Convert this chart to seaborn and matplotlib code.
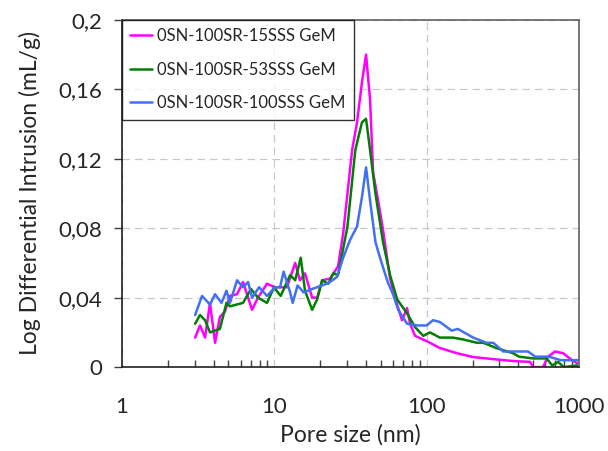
import numpy as np
import matplotlib
matplotlib.use("Agg")
import matplotlib.pyplot as plt
import seaborn as sns
from matplotlib.ticker import FixedLocator, LogLocator, NullFormatter, FuncFormatter

# pore size (nm) and log differential intrusion (mL/g)
pore_15 = [3.02, 3.25, 3.51, 3.78, 4.08, 4.39, 4.74, 5.11, 5.69, 6.23, 7.14, 7.80,
           8.95, 10.1, 12.1, 13.7, 14.7, 15.9, 17.7, 19.1, 20.6, 23.2, 26.2, 28.3,
           32.4, 34.9, 37.6, 40.0, 42.5, 44.5, 48.0, 51.7, 57.5, 64.0, 68.9, 74.3,
           77.8, 83.9, 100, 122, 158, 202, 273, 369, 478, 500, 581, 626, 697, 787,
           901, 972]
intr_15 = [0.017, 0.024, 0.017, 0.037, 0.014, 0.029, 0.032, 0.041, 0.042, 0.049, 0.033, 0.040,
           0.048, 0.046, 0.046, 0.060, 0.050, 0.054, 0.040, 0.040, 0.050, 0.051, 0.058, 0.077,
           0.125, 0.141, 0.164, 0.180, 0.154, 0.112, 0.096, 0.079, 0.051, 0.036, 0.027, 0.034,
           0.025, 0.018, 0.015, 0.011, 0.008, 0.0058, 0.0046, 0.0035, 0.003, 0.0, 0.0, 0.006,
           0.009, 0.008, 0.004, 0.0023]

pore_53 = [3.02, 3.25, 3.51, 3.78, 4.39, 4.85, 5.11, 6.23, 7.03, 7.80, 8.95, 9.95,
           11.0, 12.7, 13.7, 14.9, 15.9, 17.7, 19.1, 20.6, 22.6, 24.4, 26.2, 30.2,
           34.0, 37.6, 40.0, 42.5, 46.1, 51.7, 57.5, 64.0, 74.3, 83.9, 95.0, 105,
           122, 148, 172, 214, 236, 286, 369, 404, 500, 612, 667, 730, 795, 972]
intr_53 = [0.025, 0.030, 0.027, 0.020, 0.022, 0.037, 0.035, 0.037, 0.045, 0.040, 0.037, 0.046,
           0.041, 0.053, 0.050, 0.063, 0.044, 0.033, 0.039, 0.050, 0.048, 0.054, 0.053, 0.081,
           0.125, 0.141, 0.143, 0.125, 0.100, 0.072, 0.053, 0.039, 0.031, 0.023, 0.018, 0.020,
           0.017, 0.017, 0.016, 0.014, 0.014, 0.011, 0.008, 0.006, 0.005, 0.005, 0.001,
           0.003, 0.0, 0.001]

pore_100 = [3.02, 3.35, 3.78, 4.08, 4.50, 4.85, 5.11, 5.69, 6.23, 6.72, 7.14, 7.94,
            8.95, 10.1, 10.9, 11.5, 12.7, 13.2, 14.2, 15.6, 17.7, 20.6, 23.2, 25.8,
            28.3, 31.3, 34.9, 37.6, 40.0, 42.5, 46.1, 49.8, 55.5, 60.1, 65.0, 74.3,
            86.4, 100, 110, 122, 146, 160, 202, 247, 274, 318, 463, 517, 633, 760, 1000]
intr_100 = [0.030, 0.041, 0.036, 0.042, 0.037, 0.044, 0.037, 0.050, 0.046, 0.049, 0.040, 0.046,
            0.041, 0.046, 0.046, 0.055, 0.043, 0.037, 0.047, 0.043, 0.045, 0.047, 0.049, 0.052,
            0.063, 0.073, 0.081, 0.098, 0.115, 0.096, 0.072, 0.062, 0.049, 0.042, 0.033, 0.025,
            0.024, 0.024, 0.027, 0.026, 0.021, 0.022, 0.017, 0.014, 0.014, 0.009, 0.009,
            0.006, 0.006, 0.004, 0.004]

series = [
    (pore_15, intr_15, "0SN-100SR-15SSS GeM", "#ff00ff"),
    (pore_53, intr_53, "0SN-100SR-53SSS GeM", "#008000"),
    (pore_100, intr_100, "0SN-100SR-100SSS GeM", "#4170f2"),
]
y_ticks = [0, 0.04, 0.08, 0.12, 0.16, 0.2]

sns.set_theme(style="white")
plt.rcParams["font.family"] = ["Lato", "DejaVu Sans"]

fig = plt.figure(figsize=(6.08, 4.51), dpi=100)
ax = fig.add_axes([0.2007, 0.186, 0.7516, 0.770])

for x, y, name, col in series:
    sns.lineplot(x=x, y=y, ax=ax, color=col, label=name, linewidth=1.8, sort=False)

ax.set_xscale("log")
ax.set_xlim(1, 1000)
ax.set_ylim(0, 0.2)

ax.yaxis.set_major_locator(FixedLocator(y_ticks))
ax.yaxis.set_major_formatter(FuncFormatter(
    lambda v, p: "0" if v == 0 else f"{v:.2f}".rstrip("0").replace(".", ",")))
ax.xaxis.set_major_locator(LogLocator(base=10, numticks=10))
ax.xaxis.set_minor_locator(LogLocator(base=10, subs=np.arange(2, 10), numticks=10))
ax.xaxis.set_minor_formatter(NullFormatter())
ax.xaxis.set_major_formatter(FuncFormatter(lambda v, p: f"{v:g}"))

ax.grid(True, which="major", color="#c8c8c8", linestyle=(0, (6, 4)), linewidth=0.9)
ax.tick_params(axis="x", which="major", direction="inout", length=11, width=1,
               color="#404040", pad=16, labelsize=16)
ax.tick_params(axis="x", which="minor", direction="in", length=5, width=1,
               color="#404040", bottom=True)
ax.tick_params(axis="y", which="major", direction="out", length=6, width=1,
               color="#404040", pad=8, labelsize=16, left=True)

for side in ["left", "bottom"]:
    ax.spines[side].set_color("#202020")
    ax.spines[side].set_linewidth(1.2)
for side in ["top", "right"]:
    ax.spines[side].set_color("#606060")
    ax.spines[side].set_linewidth(1.2)

ax.set_xlabel("Pore size (nm)", fontsize=16.5, labelpad=5)
ax.set_ylabel("Log Differential Intrusion (mL/g)", fontsize=16.5, labelpad=13)

leg = ax.legend(loc="upper left", bbox_to_anchor=(0, 1), borderaxespad=0,
                fontsize=12, frameon=True, fancybox=False, edgecolor="black",
                handlelength=1.3, handletextpad=0.3, labelspacing=1.05,
                borderpad=0.5)
leg.get_frame().set_linewidth(1.0)
for h in leg.get_lines():
    h.set_linewidth(1.8)

plt.savefig("out.png", dpi=100)
plt.close()
